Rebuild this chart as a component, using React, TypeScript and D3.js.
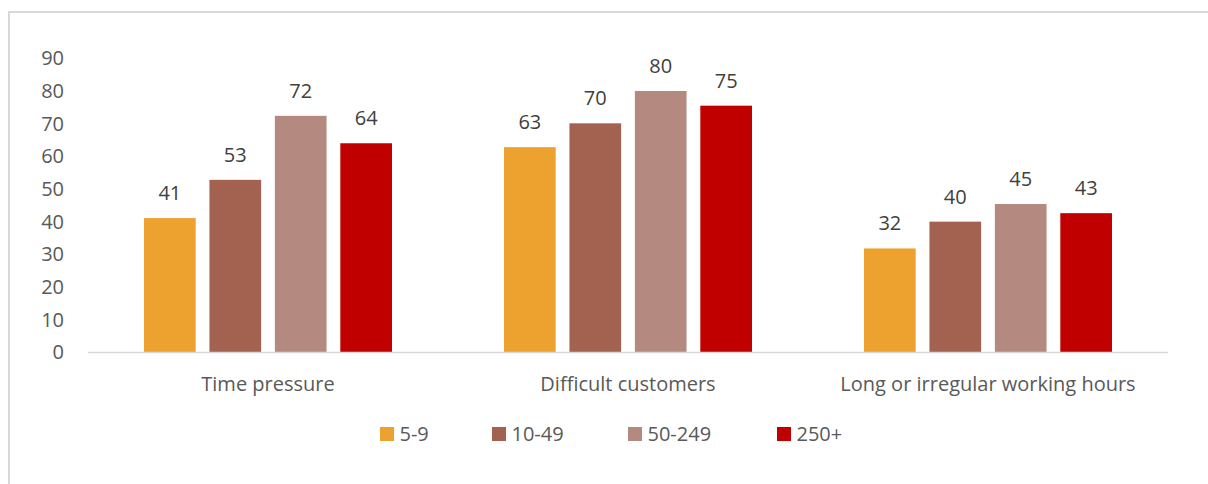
import React from "react";
import * as d3 from "d3";

const categories = ["Time pressure", "Difficult customers", "Long or irregular working hours"];
const seriesNames = ["5-9", "10-49", "50-249", "250+"];
const seriesColors = ["#EDA22F", "#A2624F", "#B48A80", "#C00000"];
const values5to9 = [41.0, 62.7, 31.7];
const values10to49 = [52.7, 70.0, 39.9];
const values50to249 = [72.3, 79.9, 45.3];
const values250plus = [63.9, 75.4, 42.5];
const yTicks = [0, 10, 20, 30, 40, 50, 60, 70, 80, 90];

const seriesValues = [values5to9, values10to49, values50to249, values250plus];

const W = 1208;
const H = 484;
const FONT = "'Open Sans', Lato, sans-serif";
const FS = 20;
const TEXT = "#595959";

export default function App() {
  const x0 = d3.scaleBand<string>().domain(categories).range([88, 1168]).paddingInner(0).paddingOuter(0);
  const x1 = d3
    .scaleBand<string>()
    .domain(seriesNames)
    .range([56, x0.bandwidth() - 56])
    .paddingInner(0.21)
    .paddingOuter(0);
  const y = d3.scaleLinear().domain([0, 90]).range([352, 58]);

  const legendX = [380, 492, 628, 777];

  return (
    <svg width={W} height={H} style={{ position: "absolute", left: 0, top: 0 }}>
      <rect x={0} y={0} width={W} height={H} fill="#fff" />
      <rect x={9} y={12} width={W + 20} height={H + 20} fill="none" stroke="#D9D9D9" strokeWidth={2} />
      {yTicks.map((t) => (
        <text
          key={t}
          x={64}
          y={y(t)}
          dy="0.36em"
          textAnchor="end"
          fontFamily={FONT}
          fontSize={FS}
          fill={TEXT}
        >
          {t}
        </text>
      ))}
      {categories.map((c, ci) => (
        <g key={c} transform={`translate(${x0(c)},0)`}>
          {seriesNames.map((s, si) => {
            const v = seriesValues[si][ci];
            const bx = x1(s)!;
            return (
              <g key={s}>
                <rect x={bx} y={y(v)} width={x1.bandwidth()} height={y(0) - y(v)} fill={seriesColors[si]} />
                <text
                  x={bx + x1.bandwidth() / 2}
                  y={y(v) - 18}
                  textAnchor="middle"
                  fontFamily={FONT}
                  fontSize={FS}
                  fill="#404040"
                >
                  {Math.round(v)}
                </text>
              </g>
            );
          })}
          <text
            x={x0.bandwidth() / 2}
            y={391}
            textAnchor="middle"
            fontFamily={FONT}
            fontSize={FS}
            fill={TEXT}
          >
            {c}
          </text>
        </g>
      ))}
      <line x1={88} x2={1168} y1={352.5} y2={352.5} stroke="#D9D9D9" strokeWidth={1.5} />
      {seriesNames.map((s, i) => (
        <g key={s}>
          <rect x={legendX[i]} y={427} width={14} height={14} fill={seriesColors[i]} />
          <text x={legendX[i] + 19.5} y={441} fontFamily={FONT} fontSize={FS} fill={TEXT}>
            {s}
          </text>
        </g>
      ))}
    </svg>
  );
}
